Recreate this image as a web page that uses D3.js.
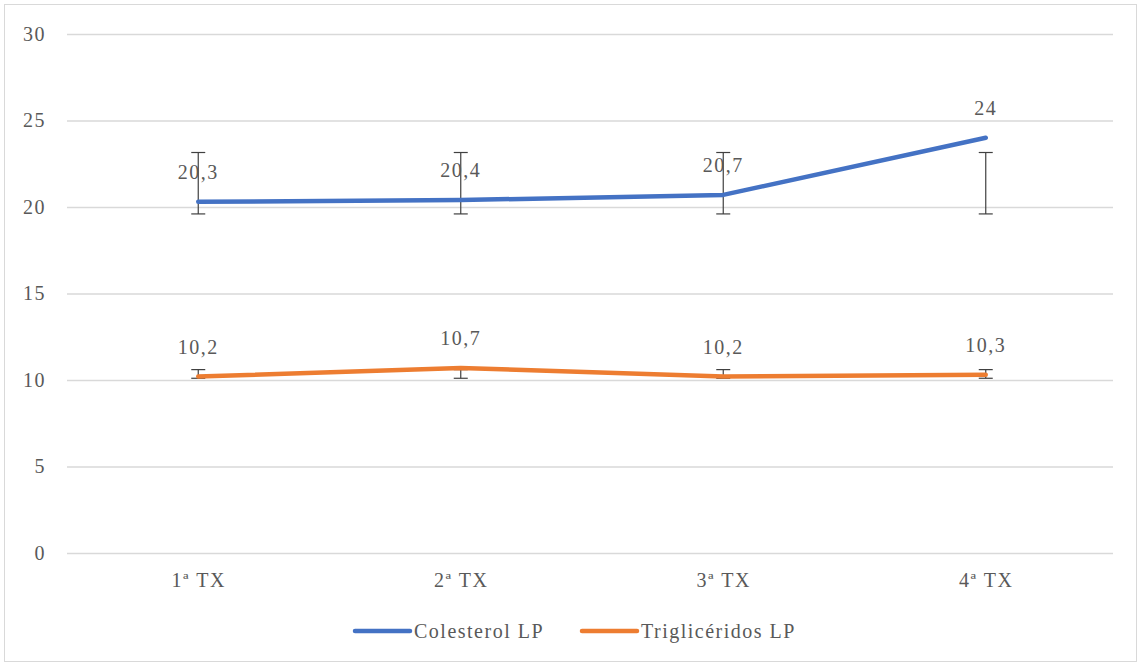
<!DOCTYPE html>
<html><head><meta charset="utf-8">
<script src="https://cdn.jsdelivr.net/npm/d3@7"></script>
<style>body{margin:0;background:#fff}svg{display:block}text{font-family:"Liberation Serif",serif;fill:#595959;letter-spacing:1.5px}</style>
</head><body><svg id="c" width="1140" height="666"></svg>
<script>
const categories = ["1ª TX","2ª TX","3ª TX","4ª TX"];
const colesterol = [20.3, 20.4, 20.7, 24];
const trigliceridos = [10.2, 10.7, 10.2, 10.3];
const colLabels = ["20,3","20,4","20,7","24"];
const triLabels = ["10,2","10,7","10,2","10,3"];
const colErrLow = [19.6, 19.6, 19.6, 19.6];
const colErrHigh = [23.15, 23.15, 23.15, 23.15];
const triErrLow = [10.1, 10.1, 10.1, 10.1];
const triErrHigh = [10.6, 10.6, 10.6, 10.6];
const yTicks = [0,5,10,15,20,25,30];
const seriesNames = ["Colesterol LP","Triglicéridos LP"];
const colors = ["#4472C4","#ED7D31"];
const FONT = '"Liberation Serif",serif';
const FS = 20;

const svg = d3.select("#c");
svg.append("rect").attr("x",4.5).attr("y",4.5).attr("width",1132).attr("height",657)
  .attr("fill","#fff").attr("stroke","#d9d9d9");

const x = d3.scalePoint().domain(categories).range([67,1117]).padding(0.5);
const y = d3.scaleLinear().domain([0,30]).range([553,34]);

const yAxis = d3.axisLeft(y).tickValues(yTicks).tickSize(-1046).tickPadding(21);
const gy = svg.append("g").attr("transform","translate(67,0)").call(yAxis);
gy.select(".domain").remove();
gy.selectAll(".tick line").attr("stroke","#d9d9d9").attr("stroke-width",1.3);
gy.selectAll(".tick text").attr("font-size",FS).attr("fill","#595959").attr("font-family",FONT);

const xAxis = d3.axisBottom(x).tickSize(0).tickPadding(20);
const gx = svg.append("g").attr("transform","translate(0,553)").call(xAxis);
gx.select(".domain").remove();
gx.selectAll(".tick text").attr("font-size",FS).attr("fill","#595959").attr("font-family",FONT);

const series = [
  {vals:colesterol, labels:colLabels, lo:colErrLow, hi:colErrHigh, color:colors[0]},
  {vals:trigliceridos, labels:triLabels, lo:triErrLow, hi:triErrHigh, color:colors[1]}
];
const line = d3.line().x((d,i)=>x(categories[i])).y(d=>y(d));

series.forEach(s=>{
  const g = svg.append("g").attr("stroke","#404040").attr("stroke-width",1.2);
  categories.forEach((c,i)=>{
    const cx = x(c);
    g.append("line").attr("x1",cx).attr("x2",cx).attr("y1",y(s.lo[i])).attr("y2",y(s.hi[i]));
    g.append("line").attr("x1",cx-7).attr("x2",cx+7).attr("y1",y(s.lo[i])).attr("y2",y(s.lo[i]));
    g.append("line").attr("x1",cx-7).attr("x2",cx+7).attr("y1",y(s.hi[i])).attr("y2",y(s.hi[i]));
  });
});
series.forEach(s=>{
  svg.append("path").datum(s.vals).attr("d",line).attr("fill","none")
    .attr("stroke",s.color).attr("stroke-width",4.5).attr("stroke-linecap","round").attr("stroke-linejoin","round");
});
series.forEach(s=>{
  svg.append("g").selectAll("text").data(s.vals).join("text")
    .attr("x",(d,i)=>x(categories[i])).attr("y",d=>y(d)-23)
    .attr("text-anchor","middle").attr("font-size",FS).text((d,i)=>s.labels[i]);
});

const legX = [355, 582];
seriesNames.forEach((n,i)=>{
  svg.append("line").attr("x1",legX[i]).attr("x2",legX[i]+55).attr("y1",631).attr("y2",631)
    .attr("stroke",colors[i]).attr("stroke-width",4.5).attr("stroke-linecap","round");
  svg.append("text").attr("x",legX[i]+59).attr("y",638).attr("font-size",FS).text(n);
});
</script></body></html>
